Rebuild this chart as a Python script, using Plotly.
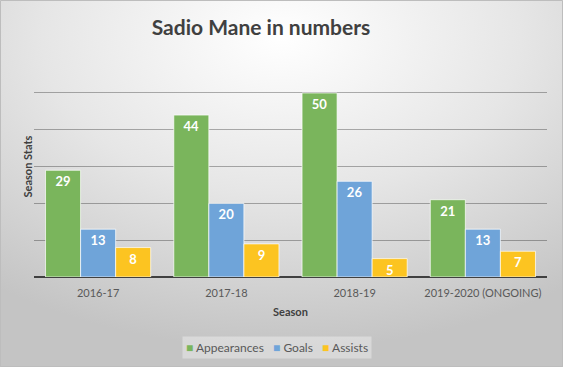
import base64
import plotly.graph_objects as go

seasons = ["2016-17", "2017-18", "2018-19", "2019-2020 (ONGOING)"]
appearances = [29, 44, 50, 21]
goals = [13, 20, 26, 13]
assists = [8, 9, 5, 7]

W, H = 563, 367
L, R, T, B = 34, 16, 56, 90
pw, ph = W - L - R, H - T - B

svg = (f'<svg xmlns="http://www.w3.org/2000/svg" width="{W}" height="{H}" '
       f'viewBox="0 0 {W} {H}" preserveAspectRatio="none">'
       '<defs><radialGradient id="g" cx="0.5" cy="0.1" r="0.85" fx="0.5" fy="0.1">'
       '<stop offset="0" stop-color="#ffffff"/><stop offset="0.5" stop-color="#e6e6e6"/>'
       '<stop offset="1" stop-color="#c4c4c4"/></radialGradient></defs>'
       f'<rect x="0" y="0" width="{W}" height="{H}" fill="url(#g)"/></svg>')
src = "data:image/svg+xml;base64," + base64.b64encode(svg.encode()).decode()

colors = {"Appearances": "#7ab55c", "Goals": "#6fa4d9", "Assists": "#fcc421"}

fig = go.Figure()
for name, vals in [("Appearances", appearances), ("Goals", goals), ("Assists", assists)]:
    fig.add_trace(go.Bar(
        x=seasons, y=vals, name=name,
        marker=dict(color=colors[name], line=dict(color="rgba(255,255,255,0.7)", width=1)),
        text=vals, textposition="inside", insidetextanchor="end",
        textfont=dict(color="white", size=13, family="Lato", weight="bold"),
        textangle=0,
    ))

legend_text = "   ".join(
    f"<span style='color:{colors[n]}'>■</span> {n}" for n in ["Appearances", "Goals", "Assists"])

fig.update_layout(
    width=W, height=H,
    margin=dict(l=L, r=R, t=T, b=B, autoexpand=False),
    paper_bgcolor="rgba(0,0,0,0)", plot_bgcolor="rgba(0,0,0,0)",
    barmode="group", bargap=0.18, bargroupgap=0,
    uniformtext=dict(minsize=13, mode="show"),
    title=dict(text="<b>Sadio Mane in numbers</b>", x=261 / W, xref="container", xanchor="center",
               y=1 - 28 / H, yanchor="middle",
               font=dict(family="Lato", size=21, color="#404040")),
    font=dict(family="Lato", color="#595959"),
    showlegend=False,
    xaxis=dict(showgrid=False, ticks="", tickfont=dict(size=11, color="#595959"),
               ticklabelstandoff=8, showline=False, automargin=False),
    yaxis=dict(range=[0, 60.05], tick0=0, dtick=10, showgrid=True, gridcolor="rgba(0,0,0,0.3)",
               gridwidth=1, showticklabels=False, zeroline=True, zerolinecolor="#404040",
               zerolinewidth=2, automargin=False),
    annotations=[
        dict(text="<b>Season</b>", xref="paper", yref="paper", x=(290 - L) / pw,
             y=-(311 - 277) / ph, xanchor="center", yanchor="middle", showarrow=False,
             font=dict(size=11, color="#404040")),
        dict(text="<b>Season Stats</b>", xref="paper", yref="paper", x=-(L - 27) / pw,
             y=0.5, xanchor="center", yanchor="middle", textangle=-90, showarrow=False,
             font=dict(size=11, color="#404040")),
        dict(text=legend_text, xref="paper", yref="paper", x=(277 - L) / pw,
             y=-(347 - 277) / ph, xanchor="center", yanchor="middle", showarrow=False,
             font=dict(size=12, color="#595959"), bgcolor="rgba(255,255,255,0.35)",
             borderpad=3),
    ],
    images=[dict(source=src, xref="paper", yref="paper", x=-L / pw, y=1 + T / ph,
                 sizex=W / pw, sizey=H / ph, xanchor="left", yanchor="top",
                 sizing="stretch", layer="below")],
    shapes=[dict(type="rect", xref="paper", yref="paper", x0=-(L - 0.5) / pw, x1=1 + (R - 0.5) / pw,
                 y0=-(B - 0.5) / ph, y1=1 + (T - 0.5) / ph,
                 line=dict(color="#bdbdbd", width=1), fillcolor="rgba(0,0,0,0)", layer="above")],
)

fig.write_html("out.html", config={"displayModeBar": False},
               post_script="document.body.style.margin='0';document.body.style.overflow='hidden';")
